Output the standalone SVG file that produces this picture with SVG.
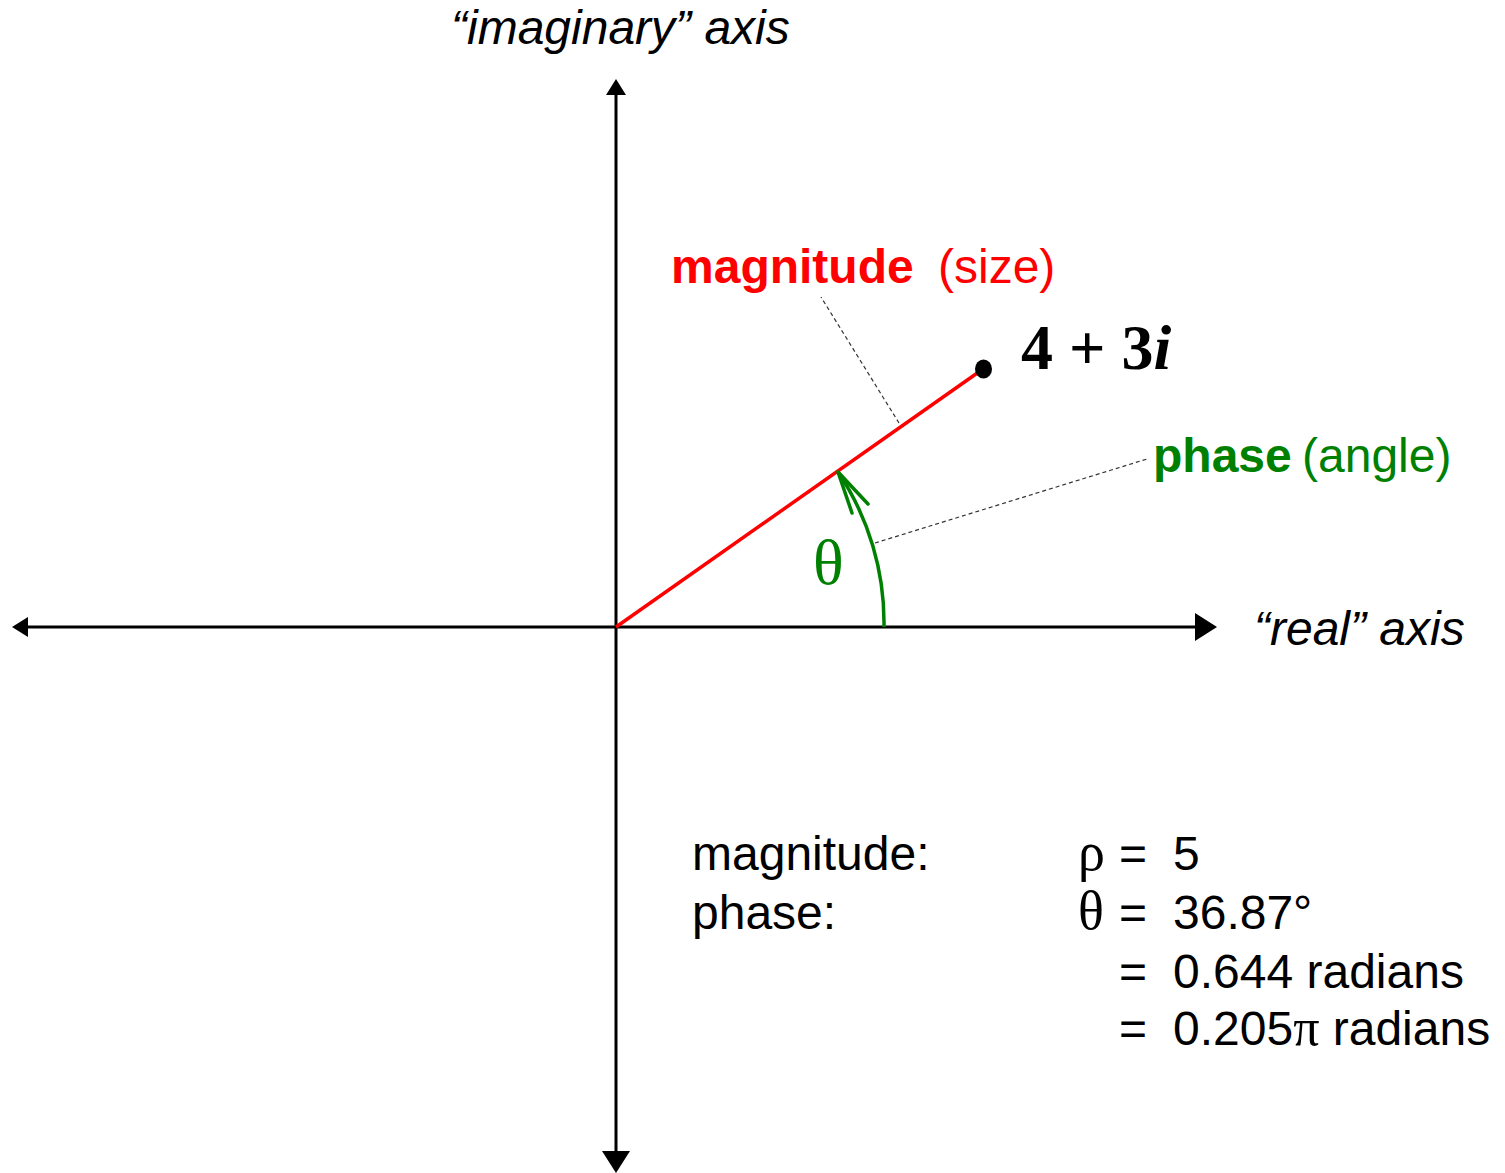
<svg xmlns="http://www.w3.org/2000/svg" width="1505" height="1173" viewBox="0 0 1505 1173">
<defs>
<style>
.sans{font-family:"Liberation Sans",Arial,sans-serif;font-size:48px}
.serif{font-family:"Liberation Serif","Times New Roman",serif}
.it{font-style:italic}
.b{font-weight:bold}
.axis{stroke:#000;stroke-width:3;fill:none}
.lead{stroke:#333;stroke-width:1.2;stroke-dasharray:4 3;fill:none}
.red{fill:#ff0000}
.green{fill:#008000}
</style>
</defs>
<rect width="1505" height="1173" fill="#fff"/>
<g id="connectors">
<line class="axis" x1="616" y1="627" x2="28" y2="627"/>
<polygon points="12,627 28,617 28,637" fill="#000"/>
<line class="axis" x1="616" y1="627" x2="1195" y2="627"/>
<polygon points="1217,627 1195,613 1195,641" fill="#000"/>
<line class="axis" x1="616" y1="627" x2="616" y2="95"/>
<polygon points="616,79 606,95 626,95" fill="#000"/>
<line class="axis" x1="616" y1="627" x2="616" y2="1151"/>
<polygon points="616,1173 602,1151 630,1151" fill="#000"/>
<line x1="616" y1="627" x2="983" y2="369" stroke="#ff0000" stroke-width="3.5"/>
<path d="M884,627 A270,270 0 0 0 838,472" stroke="#008000" stroke-width="3.5" fill="none"/>
<path d="M852,513 L838,472 L868,504" stroke="#008000" stroke-width="3.5" fill="none" stroke-linecap="round" stroke-linejoin="round"/>
<line class="lead" x1="899" y1="423" x2="821" y2="297"/>
<line class="lead" x1="875" y1="543" x2="1147" y2="459"/>
</g>
<g id="point">
<ellipse cx="983.5" cy="369" rx="8.5" ry="9.5" fill="#000"/>
<text class="serif b" x="1021" y="369" font-size="64">4 + 3<tspan font-style="italic">i</tspan></text>
</g>
<g id="imag-label"><text class="sans it" x="451" y="44">“imaginary” axis</text></g>
<g id="real-label"><text class="sans it" x="1254" y="645">“real” axis</text></g>
<g id="magnitude-label"><text class="sans red" x="671" y="283"><tspan class="b">magnitude</tspan></text><text class="sans red" x="938" y="283" font-size="46">(size)</text></g>
<g id="phase-label"><text class="sans green" x="1153" y="472"><tspan class="b">phase</tspan></text><text class="sans green" x="1302" y="472">(angle)</text></g>
<g id="theta"><text class="serif green" x="813" y="584" font-size="64">θ</text></g>
<g id="values">
<text class="sans" x="692" y="870">magnitude:</text>
<text class="sans" x="692" y="929">phase:</text>
<text class="serif" x="1078" y="870" font-size="54">ρ</text>
<text class="serif" x="1078" y="929" font-size="54">θ</text>
<text class="sans" x="1119" y="870">=</text>
<text class="sans" x="1119" y="929">=</text>
<text class="sans" x="1119" y="988">=</text>
<text class="sans" x="1119" y="1045">=</text>
<text class="sans" x="1173" y="870">5</text>
<text class="sans" x="1173" y="929">36.87°</text>
<text class="sans" x="1173" y="988">0.644 radians</text>
<text class="sans" x="1173" y="1045">0.205<tspan class="serif" font-size="52">π</tspan> radians</text>
</g>
</svg>
